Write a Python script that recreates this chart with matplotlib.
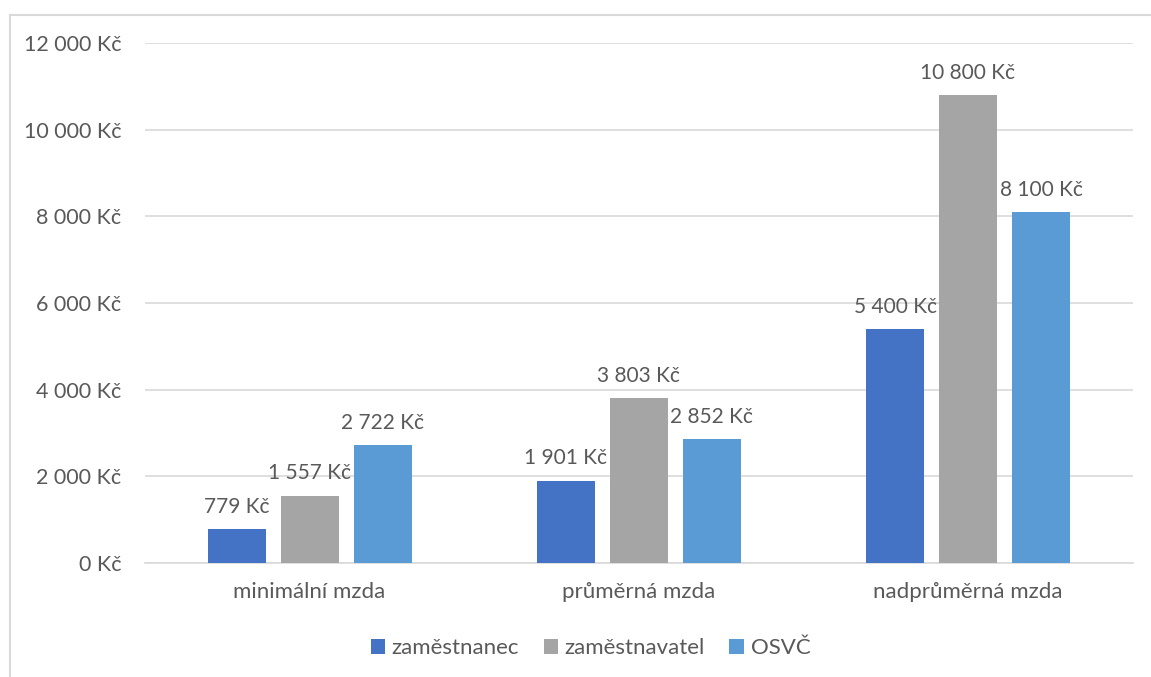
import numpy as np
import matplotlib.pyplot as plt
from matplotlib.lines import Line2D

categories = ['minimální mzda', 'průměrná mzda', 'nadprůměrná mzda']
series_names = ['zaměstnanec', 'zaměstnavatel', 'OSVČ']
zamestnanec = [779, 1901, 5400]
zamestnavatel = [1557, 3803, 10800]
osvc = [2722, 2852, 8100]
yticks = [0, 2000, 4000, 6000, 8000, 10000, 12000]

colors = ['#4472C4', '#A5A5A5', '#5B9BD5']
text_color = '#595959'
grid_color = '#D9D9D9'

plt.rcParams['font.family'] = ['Lato', 'DejaVu Sans']


def kc(v):
    return f'{v:,} Kč'.replace(',', ' ')


fig = plt.figure(figsize=(11.51, 6.77), dpi=100)
ax = fig.add_axes([0.126, 0.1684, 0.858, 0.7681])

# chart border (cut off on the right and bottom)
fig.add_artist(Line2D([0.0087, 0.0087], [0, 0.978], color=grid_color, lw=1.5, transform=fig.transFigure))
fig.add_artist(Line2D([0.0087, 1], [0.978, 0.978], color=grid_color, lw=1.5, transform=fig.transFigure))

x = np.arange(len(categories))
width = 0.176
step = 0.2217
all_series = [zamestnanec, zamestnavatel, osvc]
for i, (name, vals) in enumerate(zip(series_names, all_series)):
    pos = x + (i - 1) * step
    bars = ax.bar(pos, vals, width, color=colors[i], label=name, zorder=3)
    for b, v in zip(bars, vals):
        ax.text(b.get_x() + b.get_width() / 2, v + 280, kc(v), ha='center', va='bottom',
                fontsize=15, color=text_color)

ax.set_xlim(-0.5, 2.5)
ax.set_ylim(0, 12000)
ax.set_yticks(yticks)
ax.set_yticklabels([kc(v) for v in yticks])
ax.set_xticks(x)
ax.set_xticklabels(categories)
ax.tick_params(axis='y', length=0, labelsize=15.5, colors=text_color, pad=17)
ax.tick_params(axis='x', length=0, labelsize=16, colors=text_color, pad=14)
ax.yaxis.grid(True, color=grid_color, lw=1.2, zorder=0)
for s in ['top', 'right', 'left']:
    ax.spines[s].set_visible(False)
ax.spines['bottom'].set_color(grid_color)
ax.spines['bottom'].set_linewidth(1.2)

fig.legend(loc='center', bbox_to_anchor=(0.513, 0.043), ncol=3, frameon=False,
           fontsize=16, labelcolor=text_color, handlelength=0.65, handleheight=0.65,
           handletextpad=0.3, columnspacing=1.1)

fig.savefig('out.png', dpi=100)
